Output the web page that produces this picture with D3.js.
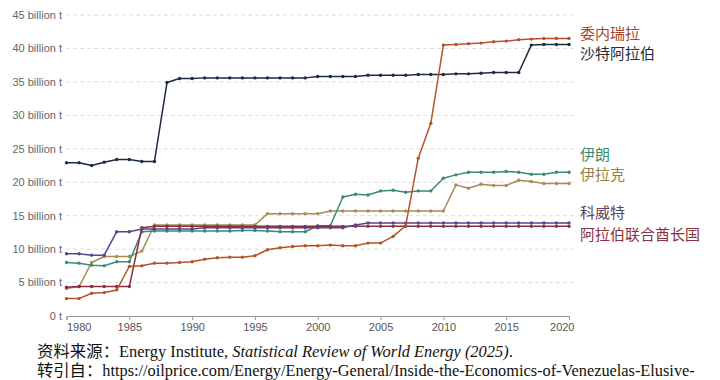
<!DOCTYPE html>
<html>
<head>
<meta charset="utf-8">
<script src="https://cdn.jsdelivr.net/npm/d3@7"></script>
<style>
  body { margin: 0; background: #fff; }
  svg { display: block; }
</style>
</head>
<body>
<script>
var screenWidth = 720;
var screenHeight = 380;

// years 1980 - 2020
var years = d3.range(1980, 2021);

// proven reserves, billion tonnes
var venezuela = [2.6, 2.6, 3.4, 3.5, 3.9, 7.4, 7.5, 7.9, 7.9, 8.0,
        8.1, 8.5, 8.7, 8.8, 8.8, 9.0, 9.9, 10.2, 10.4, 10.5,
        10.5, 10.6, 10.5, 10.5, 10.9, 10.9, 11.9, 13.5, 23.6, 28.8,
        40.5, 40.6, 40.7, 40.8, 41.0, 41.1, 41.3, 41.4, 41.5, 41.5, 41.5];

var saudi = [22.9, 22.9, 22.5, 23.0, 23.4, 23.4, 23.1, 23.1, 34.9, 35.5,
        35.5, 35.6, 35.6, 35.6, 35.6, 35.6, 35.6, 35.6, 35.6, 35.6,
        35.8, 35.8, 35.8, 35.8, 36.0, 36.0, 36.0, 36.0, 36.1, 36.1,
        36.1, 36.2, 36.2, 36.3, 36.4, 36.4, 36.4, 40.5, 40.6, 40.6, 40.6];

var iran = [8.0, 7.9, 7.6, 7.5, 8.1, 8.1, 12.6, 12.7, 12.7, 12.7,
        12.7, 12.7, 12.7, 12.7, 12.8, 12.8, 12.7, 12.6, 12.6, 12.6,
        13.5, 13.5, 17.8, 18.2, 18.1, 18.7, 18.8, 18.5, 18.7, 18.7,
        20.6, 21.1, 21.5, 21.5, 21.5, 21.6, 21.5, 21.2, 21.2, 21.5, 21.5];

var iraq = [4.1, 4.4, 8.0, 8.9, 8.9, 8.9, 9.7, 13.6, 13.6, 13.6,
        13.6, 13.6, 13.6, 13.6, 13.6, 13.6, 15.3, 15.3, 15.3, 15.3,
        15.3, 15.7, 15.7, 15.7, 15.7, 15.7, 15.7, 15.7, 15.7, 15.7,
        15.7, 19.6, 19.1, 19.7, 19.5, 19.5, 20.3, 20.1, 19.8, 19.8, 19.8];

var kuwait = [9.3, 9.3, 9.1, 9.1, 12.6, 12.6, 13.0, 13.0, 13.0, 13.0,
        13.0, 13.2, 13.2, 13.2, 13.2, 13.2, 13.2, 13.2, 13.2, 13.2,
        13.2, 13.2, 13.2, 13.6, 13.9, 13.9, 13.9, 13.9, 13.9, 13.9,
        13.9, 13.9, 13.9, 13.9, 13.9, 13.9, 13.9, 13.9, 13.9, 13.9, 13.9];

var uae = [4.3, 4.4, 4.4, 4.4, 4.4, 4.4, 13.2, 13.4, 13.4, 13.4,
        13.4, 13.4, 13.4, 13.4, 13.4, 13.4, 13.4, 13.4, 13.4, 13.4,
        13.4, 13.4, 13.4, 13.4, 13.4, 13.4, 13.4, 13.4, 13.4, 13.4,
        13.4, 13.4, 13.4, 13.4, 13.4, 13.4, 13.4, 13.4, 13.4, 13.4, 13.4];

var names = ["委内瑞拉", "沙特阿拉伯", "伊朗", "伊拉克", "科威特", "阿拉伯联合酋长国"];
var lineColors = ["#b4532b", "#1b2b47", "#3b8b72", "#a88b55", "#5f438a", "#8a2d3c"];
var labelColors = ["#a5462c", "#262a33", "#3f8a6c", "#987f48", "#5b4262", "#8a3040"];
// label nudges (px) from the last point so they do not overlap
var labelDy = [-5, 9, -17, -8.5, -10, 8];

var yTicks = [0, 5, 10, 15, 20, 25, 30, 35, 40, 45];
var xTicks = [1980, 1985, 1990, 1995, 2000, 2005, 2010, 2015, 2020];

var sourceLine1 = ["资料来源：Energy Institute, ", "Statistical Review of World Energy (2025)", "."];
var sourceLine2 = "转引自：https://oilprice.com/Energy/Energy-General/Inside-the-Economics-of-Venezuelas-Elusive-";

function draw() {

        var series = [venezuela, saudi, iran, iraq, kuwait, uae];

        var holder = d3.select("body")
        .append("svg")
        .attr("width", screenWidth)
        .attr("height", screenHeight);

        var x = d3.scaleLinear().domain([1980, 2020]).range([66.5, 569]);
        var y = d3.scaleLinear().domain([0, 45]).range([316, 15]);

        // dashed grid lines
        holder.append("g")
        .selectAll("line")
        .data(yTicks.filter(function(d) { return d > 0; }))
        .join("line")
        .attr("x1", 66)
        .attr("x2", 575)
        .attr("y1", function(d) { return y(d); })
        .attr("y2", function(d) { return y(d); })
        .style("stroke", "#dedede")
        .style("stroke-width", 1)
        .style("stroke-dasharray", "4,3");

        // y labels
        holder.append("g")
        .selectAll("text")
        .data(yTicks)
        .join("text")
        .attr("x", 62)
        .attr("y", function(d) { return y(d); })
        .attr("dy", "0.35em")
        .attr("text-anchor", "end")
        .style("font-family", "'Liberation Sans', Arial, sans-serif")
        .style("font-size", "11px")
        .style("fill", "#666")
        .text(function(d) { return d === 0 ? "0 t" : d + " billion t"; });

        // x axis
        var xAxis = d3.axisBottom(x)
        .tickValues(xTicks)
        .tickFormat(d3.format("d"))
        .tickSize(4)
        .tickSizeOuter(4);

        var gx = holder.append("g")
        .attr("transform", "translate(0," + y(0) + ")")
        .call(xAxis);

        gx.select(".domain").style("stroke", "#999");
        gx.selectAll(".tick line").style("stroke", "#999");
        gx.selectAll(".tick text")
        .style("font-family", "'Liberation Sans', Arial, sans-serif")
        .style("font-size", "11px")
        .style("fill", "#555")
        .attr("y", 7)
        .attr("text-anchor", function(d) {
                if (d === 1980) return "start";
                if (d === 2020) return "end";
                return "middle";
        })
        .attr("dx", function(d) { return d === 2020 ? 5 : 0; });

        var line = d3.line()
        .x(function(d, i) { return x(years[i]); })
        .y(function(d) { return y(d); });

        // lines, drawn bottom-most first
        var order = [3, 2, 5, 4, 1, 0];
        order.forEach(function(k) {
                var g = holder.append("g");

                g.append("path")
                .datum(series[k])
                .attr("d", line)
                .style("fill", "none")
                .style("stroke", lineColors[k])
                .style("stroke-width", 1.5)
                .style("stroke-linejoin", "round");

                g.selectAll("circle")
                .data(series[k])
                .join("circle")
                .attr("cx", function(d, i) { return x(years[i]); })
                .attr("cy", function(d) { return y(d); })
                .attr("r", 1.7)
                .style("fill", lineColors[k]);
        });

        // country labels at the right
        holder.append("g")
        .selectAll("text")
        .data(names)
        .join("text")
        .attr("x", 580)
        .attr("y", function(d, i) { return y(series[i][series[i].length - 1]) + labelDy[i]; })
        .attr("dy", "0.35em")
        .style("font-family", "'Noto Sans CJK SC', sans-serif")
        .style("font-size", "15px")
        .style("fill", function(d, i) { return labelColors[i]; })
        .text(function(d) { return d; });

        // source notes
        var s1 = holder.append("text")
        .attr("x", 37)
        .attr("y", 357)
        .style("font-family", "'Liberation Serif', 'Noto Sans CJK SC', serif")
        .style("font-size", "16px")
        .style("fill", "#111");
        s1.append("tspan").text(sourceLine1[0]);
        s1.append("tspan").style("font-style", "italic").text(sourceLine1[1]);
        s1.append("tspan").text(sourceLine1[2]);

        var s2 = holder.append("text")
        .attr("x", 37)
        .attr("y", 376)
        .style("font-family", "'Liberation Serif', 'Noto Sans CJK SC', serif")
        .style("font-size", "16px")
        .style("fill", "#111")
        .text(sourceLine2);

        // squeeze to the width of the condensed type in the picture
        squeeze(s1, 37, 476);
        squeeze(s2, 37, 658);
}

function squeeze(sel, x0, w) {
        var bw = sel.node().getBBox().width;
        var k = w / bw;
        sel.attr("transform", "translate(" + x0 + ",0) scale(" + k + ",1) translate(" + (-x0) + ",0)");
}

draw();
</script>
</body>
</html>
